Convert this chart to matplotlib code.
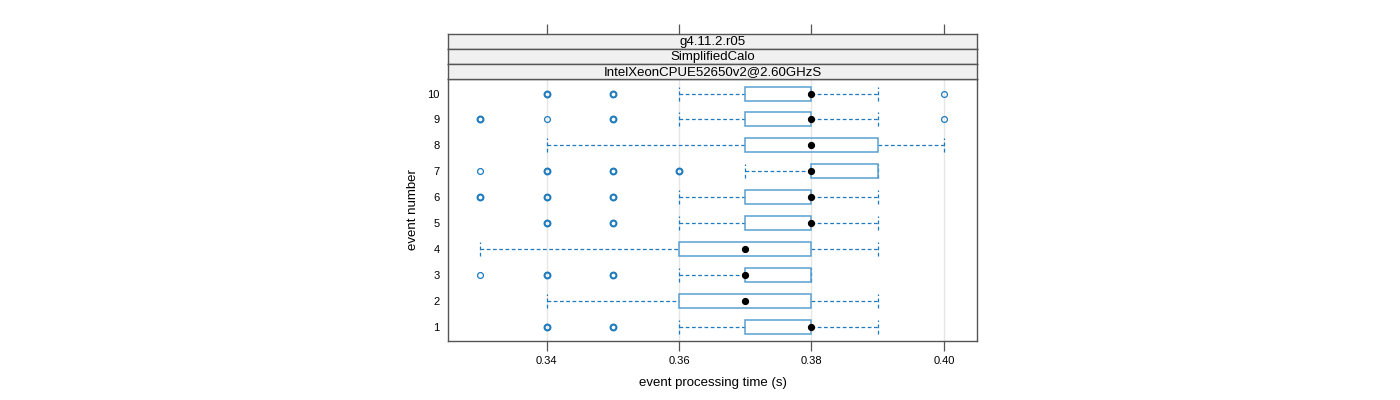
import matplotlib
matplotlib.use("Agg")
import matplotlib.pyplot as plt
from matplotlib.patches import Rectangle

plt.rcParams['font.family'] = ['Liberation Sans', 'DejaVu Sans']

# event number -> box stats (s)
events = [1, 2, 3, 4, 5, 6, 7, 8, 9, 10]
whisk_lo = [0.36, 0.34, 0.36, 0.33, 0.36, 0.36, 0.37, 0.34, 0.36, 0.36]
q1       = [0.37, 0.36, 0.37, 0.36, 0.37, 0.37, 0.38, 0.37, 0.37, 0.37]
median   = [0.38, 0.37, 0.37, 0.37, 0.38, 0.38, 0.38, 0.38, 0.38, 0.38]
q3       = [0.38, 0.38, 0.38, 0.38, 0.38, 0.38, 0.39, 0.39, 0.38, 0.38]
whisk_hi = [0.39, 0.39, 0.38, 0.39, 0.39, 0.39, 0.39, 0.40, 0.39, 0.39]
# outliers as (value, count) - count only used for overplot thickness
outliers = [
    [(0.34, 3), (0.35, 2)],
    [],
    [(0.33, 1), (0.34, 3), (0.35, 2)],
    [],
    [(0.34, 2), (0.35, 2)],
    [(0.33, 2), (0.34, 2), (0.35, 3)],
    [(0.33, 1), (0.34, 2), (0.35, 3), (0.36, 3)],
    [],
    [(0.33, 2), (0.34, 1), (0.35, 2), (0.40, 1)],
    [(0.34, 3), (0.35, 3), (0.40, 1)],
]
strips = ["g4.11.2.r05", "SimplifiedCalo", "IntelXeonCPUE52650v2@2.60GHzS"]
xticks = [0.34, 0.36, 0.38, 0.40]
xticklabels = ["0.34", "0.36", "0.38", "0.40"]

blue = "#1f7bbd"
boxcol = "#5aa0d2"
frame = "#555555"
xlim = (0.3251, 0.405)

fig = plt.figure(figsize=(14, 4), dpi=100)
ax = fig.add_axes([448/1400, 1-341/400, 529/1400, 262/400])

for x in xticks:
    ax.axvline(x, color="#e6e6e6", lw=1, zorder=0)

h = 0.27
for i, ev in enumerate(events):
    ax.plot([whisk_lo[i], q1[i]], [ev, ev], color=blue, lw=0.9, ls=(0, (3, 2)), zorder=2)
    ax.plot([q3[i], whisk_hi[i]], [ev, ev], color=blue, lw=0.9, ls=(0, (3, 2)), zorder=2)
    for w in (whisk_lo[i], whisk_hi[i]):
        ax.plot([w, w], [ev-h, ev+h], color=blue, lw=0.9, ls=(0, (3, 2)), zorder=2)
    ax.add_patch(Rectangle((q1[i], ev-h), q3[i]-q1[i], 2*h, fill=False,
                           edgecolor=boxcol, lw=1.1, zorder=3))
    ax.plot(median[i], ev, 'o', color='black', ms=4.2, zorder=4)
    for v, c in outliers[i]:
        ax.plot(v, ev, 'o', mfc='none', mec=blue, ms=4.2,
                mew=0.9 if c == 1 else 1.5, zorder=3)

ax.set_xlim(*xlim)
ax.set_ylim(0.46, 10.56)
ax.set_xticks(xticks)
ax.set_xticklabels(xticklabels)
ax.set_yticks(events)
ax.set_yticklabels([str(e) for e in events])
ax.tick_params(axis='x', direction='out', length=7, width=0.9, color=frame,
               labelsize=8, pad=4)
ax.tick_params(axis='y', length=0, labelsize=8, pad=6)
for s in ax.spines.values():
    s.set_color(frame)
    s.set_linewidth(1)
ax.set_xlabel("event processing time (s)", fontsize=9.5, labelpad=8)
ax.set_ylabel("event number", fontsize=9.5, labelpad=6)

# strips
sh = 14.8
for j, txt in enumerate(strips):
    top = 34.3 + j*sh
    sax = fig.add_axes([448/1400, 1-(top+sh)/400, 529/1400, sh/400])
    sax.set_facecolor("#f0f0f0")
    sax.set_xlim(*xlim)
    sax.set_yticks([])
    if j == 0:
        sax.xaxis.tick_top()
        sax.set_xticks(xticks)
        sax.tick_params(axis='x', direction='out', length=7, width=0.9,
                        color=frame, labeltop=False, labelbottom=False)
    else:
        sax.set_xticks([])
    for s in sax.spines.values():
        s.set_color(frame)
        s.set_linewidth(1)
    sax.text(0.5, 0.48, txt, transform=sax.transAxes, ha='center', va='center',
             fontsize=9.5, color='black')

fig.savefig("out.png", dpi=100)
